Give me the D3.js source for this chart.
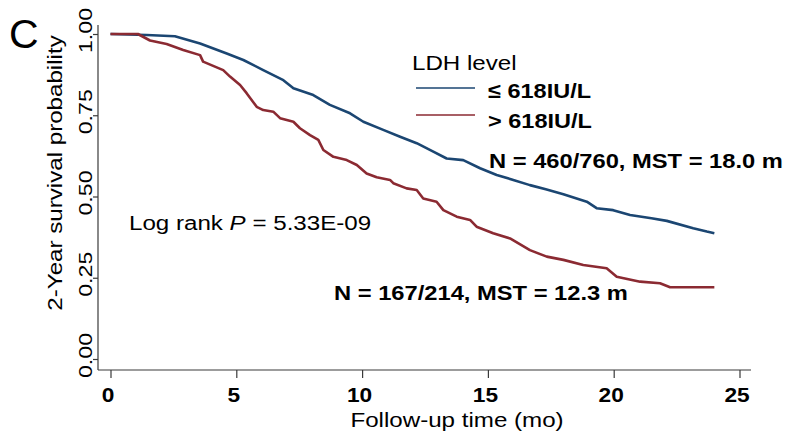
<!DOCTYPE html>
<html>
<head>
<meta charset="utf-8">
<script src="https://cdn.jsdelivr.net/npm/d3@7"></script>
<style>
  html, body { margin: 0; padding: 0; background: #fff; }
  svg { display: block; }
  text { font-family: "Liberation Sans", Arial, Helvetica, sans-serif; fill: #000; }
</style>
</head>
<body>
<svg id="chart" width="787" height="436"></svg>
<script>
// Kaplan-Meier estimates, 2-year survival by LDH level
const lowTimes = [0, 1.44, 2.56, 3.56, 4.62, 5.28, 6.07, 6.87, 7.27, 8.06, 8.72, 9.52, 10.05, 10.84, 11.51, 12.17, 12.83, 13.36, 14.02, 14.69, 15.35, 16.01, 16.67, 17.3, 18.0, 18.93, 19.32, 19.98, 20.65, 21.5, 22.11, 23.16, 23.7, 24.0];
const lowSurv  = [1.0, 0.997, 0.993, 0.971, 0.940, 0.920, 0.889, 0.858, 0.833, 0.812, 0.782, 0.756, 0.730, 0.705, 0.684, 0.664, 0.638, 0.617, 0.612, 0.587, 0.566, 0.551, 0.535, 0.522, 0.507, 0.484, 0.464, 0.458, 0.443, 0.433, 0.425, 0.402, 0.392, 0.387];

const highTimes = [0, 1.09, 1.57, 2.23, 2.89, 3.56, 3.68, 4.48, 4.75, 5.15, 5.41, 5.81, 6.07, 6.47, 6.74, 7.27, 7.53, 7.93, 8.26, 8.46, 8.86, 9.39, 9.79, 10.18, 10.58, 11.11, 11.24, 11.77, 12.17, 12.43, 12.96, 13.23, 13.76, 14.29, 14.55, 15.21, 15.88, 16.67, 17.34, 18.0, 18.79, 19.72, 20.12, 21.05, 21.84, 22.24, 24.0];
const highSurv  = [1.0, 1.0, 0.980, 0.969, 0.951, 0.935, 0.915, 0.889, 0.869, 0.843, 0.818, 0.776, 0.766, 0.761, 0.741, 0.730, 0.710, 0.689, 0.674, 0.643, 0.622, 0.612, 0.597, 0.571, 0.559, 0.551, 0.541, 0.525, 0.520, 0.494, 0.484, 0.458, 0.438, 0.428, 0.407, 0.387, 0.371, 0.335, 0.315, 0.305, 0.289, 0.279, 0.253, 0.238, 0.233, 0.221, 0.221];

const groupLabels = ["\u2264 618IU/L", "> 618IU/L"];
const groupStats  = ["N = 460/760, MST = 18.0 m", "N = 167/214, MST = 12.3 m"];
const xTicks = [0, 5, 10, 15, 20, 25];
const yTicks = [0, 0.25, 0.5, 0.75, 1.0];

const colors = ["#1b4672", "#8b2a32"];

const svg = d3.select("#chart");
svg.append("rect").attr("width", 787).attr("height", 436).attr("fill", "#fff");

const x = d3.scaleLinear().domain([0, 25]).range([110.5, 739.5]);
const y = d3.scaleLinear().domain([0, 1]).range([359, 34]);

const axisX0 = 98, axisY0 = 370;
const axisColor = "#3a3a3a";

// wide sans text: scale glyphs horizontally along the reading direction
function label(parent, opts) {
  const t = parent.append("text")
    .attr("transform", `translate(${opts.x},${opts.y})` + (opts.rotate ? ` rotate(${opts.rotate})` : "") + ` scale(${opts.sx || 1},1)`)
    .attr("font-size", opts.size)
    .attr("font-weight", opts.weight || "normal")
    .attr("text-anchor", opts.anchor || "start");
  if (opts.parts) {
    opts.parts.forEach(p => t.append("tspan").attr("font-style", p.italic ? "italic" : null).text(p.text));
  } else {
    t.text(opts.text);
  }
  return t;
}

// axis lines
svg.append("line").attr("x1", axisX0).attr("x2", axisX0).attr("y1", 25).attr("y2", axisY0)
  .attr("stroke", axisColor).attr("stroke-width", 1.2);
svg.append("line").attr("x1", axisX0).attr("x2", 751).attr("y1", axisY0).attr("y2", axisY0)
  .attr("stroke", axisColor).attr("stroke-width", 1.2);

// x axis ticks and labels
const xAxis = d3.axisBottom(x).tickValues(xTicks).tickSize(8).tickSizeOuter(0).tickFormat(d3.format("d"));
const gx = svg.append("g").attr("transform", `translate(0,${axisY0})`).call(xAxis);
gx.select(".domain").remove();
gx.selectAll(".tick line").attr("stroke", axisColor).attr("stroke-width", 1.2);
gx.selectAll(".tick text").remove();
gx.selectAll(".tick").each(function(d) {
  label(d3.select(this), { x: -3, y: 32, text: String(d), size: 21, sx: 1.08, anchor: "middle", weight: "bold" });
});

// y axis ticks and rotated labels
const yAxis = d3.axisLeft(y).tickValues(yTicks).tickSize(5).tickSizeOuter(0).tickFormat(d3.format(".2f"));
const gy = svg.append("g").attr("transform", `translate(${axisX0},0)`).call(yAxis);
gy.select(".domain").remove();
gy.selectAll(".tick line").attr("stroke", axisColor).attr("stroke-width", 1.2);
gy.selectAll(".tick text").remove();
gy.selectAll(".tick").each(function(d) {
  label(d3.select(this), { x: -6, y: -4, rotate: -90, text: d3.format(".2f")(d), size: 17.5, sx: 1.32, anchor: "middle" });
});

// axis titles
label(svg, { x: 62, y: 173, rotate: -90, text: "2-Year survival probability", size: 21, sx: 1.15, anchor: "middle" });
label(svg, { x: 457, y: 427, text: "Follow-up time (mo)", size: 21, sx: 1.15, anchor: "middle" });

// survival curves
const line = d3.line().x(d => x(d[0])).y(d => y(d[1])).curve(d3.curveLinear);
const series = [
  d3.zip(lowTimes, lowSurv),
  d3.zip(highTimes, highSurv)
];
series.forEach((s, i) => {
  svg.append("path").datum(s).attr("d", line)
    .attr("fill", "none").attr("stroke", colors[i]).attr("stroke-width", 2.6)
    .attr("stroke-linejoin", "round");
});

// panel letter
label(svg, { x: 9, y: 48, text: "C", size: 41 });

// legend
label(svg, { x: 412, y: 70, text: "LDH level", size: 21, sx: 1.15 });
const legendY = [88, 115];
groupLabels.forEach((g, i) => {
  svg.append("line").attr("x1", 416).attr("x2", 475).attr("y1", legendY[i]).attr("y2", legendY[i])
    .attr("stroke", colors[i]).attr("stroke-width", 1.6);
  label(svg, { x: 488, y: legendY[i] + 10 + i * 3, text: g, size: 21, sx: 1.12, weight: "bold" });
});

// annotations
label(svg, { x: 489, y: 168, text: groupStats[0], size: 21, sx: 1.13, weight: "bold" });
label(svg, { x: 334, y: 300, text: groupStats[1], size: 21, sx: 1.13, weight: "bold" });
label(svg, { x: 129, y: 230, size: 21, sx: 1.15, parts: [
  { text: "Log rank " }, { text: "P", italic: true }, { text: " = 5.33E-09" }
]});
</script>
</body>
</html>
